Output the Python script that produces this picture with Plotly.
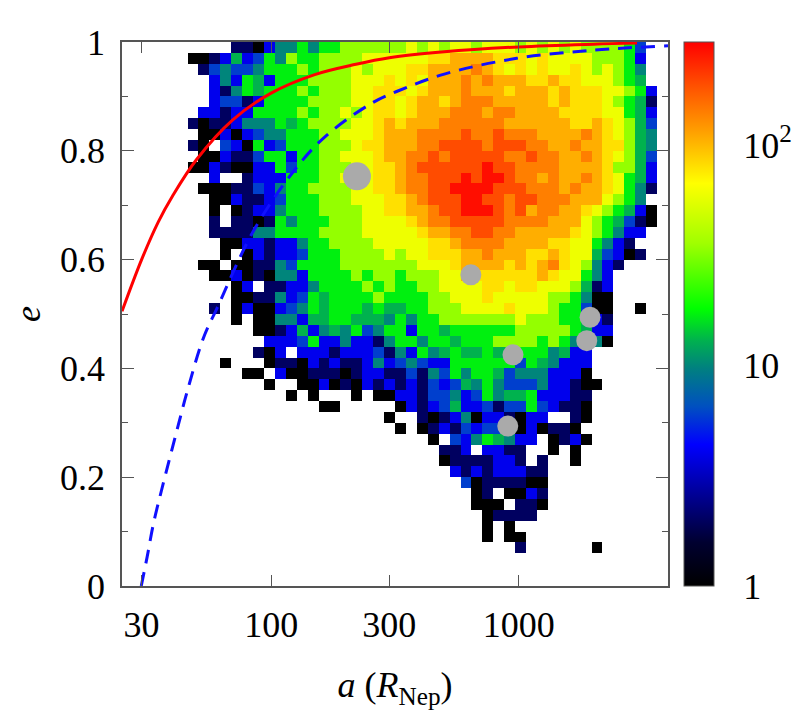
import numpy as np
import plotly.graph_objects as go

# 2d histogram of the simulated orbits in (a, e)
# one string per e-bin, from the top bin (e ~ 1) down to the bottom bin (e ~ 0)
# one character per a-bin (log spaced), '.' means an empty bin
level_chars = "0123456789abcd"
level_counts = [1, 2, 4, 6, 10, 13, 17, 34, 60, 80, 106, 140, 190, 270]

hist_rows = [
    ".......... 1102446466 7777778787 8878887878 78777763..",
    "......0012 5236476677 7788888899 aaaa999898 88877762..",
    ".......134 3346667677 78788899aa aaba989898 89878764..",
    "........24 2652666777 78889898aa ababaaa99a 99888765..",
    "........21 4656667677 78899989aa abaaa9aaa9 a99988762.",
    "........23 3126666777 7889989aa9 abbbaaaaa9 a99987651.",
    ".......221 2266667677 8789989aaa bbbabbaaaa 999988652.",
    "......1011 2444656777 7889a9aaab bbbbbaaaaa a99a98753.",
    ".......002 0234466677 8889aaabbb bcbbcbbbaa aaba98754.",
    "......10.3 2062366677 7899aaabbc cccbcccbba abaa99754.",
    ".......002 1136626677 8889aabbcb cccccbbcbb aaba98753.",
    "......0021 0022636677 78899abccc cccdccbbbb aaaa97752.",
    "........2. .122266677 88899abbcc cdcddcbbab aaba98652.",
    ".......000 1132466777 78899abbcc ddddcccbbb abaa98641.",
    "........00 2112366677 788899abcc cddccbccbb baaa8764..",
    "........0. 0122466677 778899aabc cdddcbcabb aa9876520.",
    "........1. 1101646667 7788889abb cccccbbbba aa8765310.",
    "........11 1144666677 77888889aa bbccbbaaaa a9876422..",
    ".........0 0221224667 7778888899 abbbbaaaa9 9886421...",
    ".........0 .021223666 7777878899 9aabaaa99a 98853201..",
    ".......00. 0011436666 7777777888 9aaaa9a9ab 987421....",
    "........00 2010442666 6767767778 8a999999a9 88642.....",
    ".......... 02.1122466 6676766778 8889989988 87512.....",
    ".......... 0011423656 6667666677 8889888887 76400.....",
    "........1. 0200234656 6656556677 7888898887 66300..0..",
    ".......... 0.00442556 6555464667 7777778777 66521.....",
    ".......... ..00125245 4634662665 6666667777 76522.....",
    ".......... ...2223622 4221466466 5666777767 64540.....",
    ".......... ..102.2221 2223142645 6556556664 522.......",
    ".........0 ...0110212 1124234322 6666663654 222.......",
    ".......... .00.200111 0122113143 6466534442 220.......",
    ".......... ...0..0020 1021212132 3546433342 2100......",
    ".......... .....0.0.. .0.0022133 4236455622 211.......",
    ".......... ........00 .....02123 5223133632 110.......",
    ".......... .......... ....0..101 240221022. .10.......",
    ".......... .......... .....0.012 1323330201 10........",
    ".......... .......... ........0. 32465422.0 120.......",
    ".......... .......... .........1 12.2211..0 .0........",
    ".......... .......... .........0 1111221.1. .0........",
    ".......... .......... .......... 212122211. ..........",
    ".......... .......... .......... .30111100. ..........",
    ".......... .......... .......... ..01.0021. ..........",
    ".......... .......... .......... ..000.110. ..........",
    ".......... .......... .......... ...01111.. ..........",
    ".......... .......... .......... ...0.0.... ..........",
    ".......... .......... .......... ...0.00... ..........",
    ".......... .......... .......... ......1... ...0......",
    ".......... .......... .......... .......... ..........",
    ".......... .......... .......... .......... ..........",
    ".......... .......... .......... .......... ..........",
]

# bin edges of the histogram
a_min, a_max = 25, 4000
n_bins = 50
count_max = 293

# known irregular satellites
sat_a = [222, 640, 947, 902, 1938, 1880]
sat_e = [0.753, 0.572, 0.425, 0.294, 0.494, 0.451]
sat_size = [28, 21, 21, 21, 21, 21]

# red solid limit curve
red_a = [25, 30, 35, 40, 50, 70, 100, 150, 220, 300, 500, 1000, 2000, 3000]
red_e = [0.505, 0.600, 0.669, 0.717, 0.784, 0.857, 0.906, 0.940, 0.959, 0.971, 0.982, 0.991, 0.996, 0.998]

# blue dashed limit curve
blue_a = [29.9, 31.6, 33.5, 36.1, 39.1, 42.2, 45.6, 53.2, 60.5, 84.7, 123, 167, 258, 321, 500, 980, 2000, 4000]
blue_e = [0.0, 0.054, 0.115, 0.176, 0.238, 0.296, 0.354, 0.455, 0.511, 0.652, 0.762, 0.828, 0.889, 0.909, 0.941, 0.970, 0.985, 0.993]

# colorbar ticks (counts)
cb_ticks = [1, 10, 100]
cb_labels = ["1", "10", "10<sup>2</sup>"]

# build the count matrix (row 0 = lowest e)
counts = np.full((n_bins, n_bins), np.nan)
for i, row in enumerate(hist_rows):
    row = row.replace(" ", "")
    assert len(row) == n_bins, (i, len(row))
    for j, ch in enumerate(row):
        if ch != ".":
            counts[n_bins - 1 - i, j] = level_counts[level_chars.index(ch)]
z = np.log10(counts)

a_edges = np.logspace(np.log10(a_min), np.log10(a_max), n_bins + 1)
e_edges = np.linspace(0, 1, n_bins + 1)

colorscale = [
    [0.0, "#000000"], [0.08, "#000030"], [0.16, "#00008c"], [0.26, "#0000ff"],
    [0.33, "#0050c0"], [0.40, "#008080"], [0.45, "#00b050"], [0.51, "#00ff00"],
    [0.63, "#a0ff00"], [0.74, "#ffff00"], [0.835, "#ffa000"], [0.92, "#ff5000"],
    [1.0, "#ff0000"],
]

serif = "Liberation Serif"

fig = go.Figure()
fig.add_trace(go.Heatmap(
    x=a_edges, y=e_edges, z=z,
    zmin=0, zmax=np.log10(count_max),
    colorscale=colorscale,
    hoverinfo="skip",
    colorbar=dict(
        x=1.03, xanchor="left", xpad=0, ypad=0,
        thickness=30, len=1, y=0.5, yanchor="middle",
        outlinewidth=1, outlinecolor="#555",
        tickvals=np.log10(cb_ticks), ticktext=cb_labels,
        ticks="outside", ticklen=22, tickcolor="rgba(0,0,0,0)",
        tickfont=dict(family=serif, size=36, color="black"),
    ),
))

fig.add_trace(go.Scatter(x=red_a, y=red_e, mode="lines", line_shape="spline",
                         line=dict(color="#ff0000", width=3), hoverinfo="skip"))
fig.add_trace(go.Scatter(x=blue_a, y=blue_e, mode="lines", line_shape="spline",
                         line=dict(color="#1010ff", width=3, dash="14px,9px"), hoverinfo="skip"))
fig.add_trace(go.Scatter(x=sat_a, y=sat_e, mode="markers",
                         marker=dict(color="#aaaaaa", size=sat_size, opacity=1, line_width=0),
                         hoverinfo="skip"))

# the page puts the figure 8 px in from the top left corner
fig.update_layout(
    width=800, height=720,
    margin=dict(l=114, r=140, t=34, b=142, autoexpand=False),
    plot_bgcolor="white", paper_bgcolor="white",
    font=dict(family=serif, size=36, color="black"),
    showlegend=False,
)
fig.update_xaxes(
    type="log", range=[np.log10(a_min), np.log10(a_max)], automargin=False,
    tickvals=[30, 100, 300, 1000], ticktext=["30", "100", "300", "1000"],
    ticks="inside", ticklen=11, tickcolor="#555", ticklabelstandoff=6,
    showline=True, linecolor="#555", linewidth=1.5, mirror="allticks",
    showgrid=False, zeroline=False,
    title=dict(text="<i>a</i> (<i>R</i><sub>Nep</sub>)", standoff=28,
               font=dict(family=serif, size=36)),
)
fig.update_yaxes(
    range=[0, 1], automargin=False,
    tickvals=[0, 0.2, 0.4, 0.6, 0.8, 1], ticktext=["0", "0.2", "0.4", "0.6", "0.8", "1"],
    ticks="inside", ticklen=12, tickcolor="#555", ticklabelstandoff=8,
    minor=dict(tickvals=[0.1, 0.3, 0.5, 0.7, 0.9], ticks="inside", ticklen=6, tickcolor="#555"),
    showline=True, linecolor="#555", linewidth=1.5, mirror="allticks",
    showgrid=False, zeroline=False,
    title=dict(text="<i>e</i>", standoff=51, font=dict(family=serif, size=36)),
)

fig.write_html("out.html")
